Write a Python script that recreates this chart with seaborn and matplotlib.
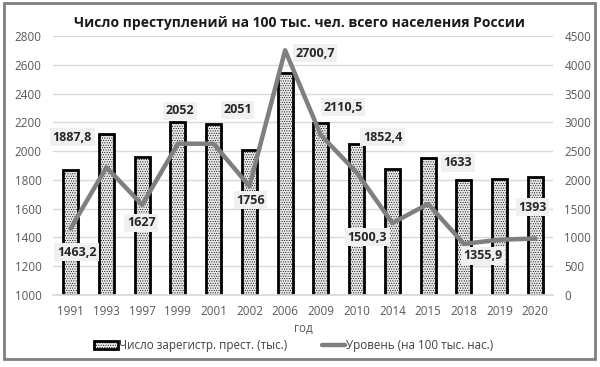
import pandas as pd
import matplotlib.pyplot as plt
import seaborn as sns
from matplotlib.patches import Rectangle, Patch
from matplotlib.lines import Line2D

years = ['1991', '1993', '1997', '1999', '2001', '2002', '2006', '2009',
         '2010', '2014', '2015', '2018', '2019', '2020']
crimes = [2173.0, 2799.6, 2397.3, 3001.7, 2968.3, 2526.3, 3855.4, 2994.8,
          2628.8, 2190.6, 2388.5, 1991.5, 2024.3, 2044.2]
level = [1463.2, 1887.8, 1627, 2052, 2051, 1756, 2700.7, 2110.5,
         1852.4, 1500.3, 1633, 1355.9, 1384, 1393]
level_labels = ['1463,2', '1887,8', '1627', '2052', '2051', '1756', '2700,7', '2110,5',
                '1852,4', '1500,3', '1633', '1355,9', '', '1393']
# label offsets in pixels (dx, dy)
label_off = [(6, -24), (-34, 30), (-1, -18), (2, 33), (24, 34), (1, -14), (30, -3), (22, 28),
             (26, 35), (-25, -14), (30, 41), (19, -12), (0, 0), (-3, 31)]

df = pd.DataFrame({'year': years, 'crimes': crimes, 'level': level})

sns.set_theme(style='white')
plt.rcParams['font.family'] = ['Open Sans', 'DejaVu Sans']
plt.rcParams['hatch.linewidth'] = 0.4
plt.rcParams['hatch.color'] = '#a0a0a0'

fig = plt.figure(figsize=(6, 3.67), dpi=100)
ax = fig.add_axes([0.088, 0.196, 0.834, 0.706])

sns.barplot(data=df, x='year', y='crimes', ax=ax, color='#e8e8e8', width=0.42,
            edgecolor='black', linewidth=2, hatch='.......')
ax.set_ylim(0, 4500)
ax.set_yticks(range(0, 4501, 500))
ax.grid(axis='y', color='#d9d9d9', linewidth=1)
ax.set_axisbelow(True)

ax2 = ax.twinx()
sns.lineplot(data=df, x='year', y='level', ax=ax2, color='#7f7f7f', linewidth=3.2,
             sort=False)
ax2.set_ylim(1000, 2800)
ax2.set_yticks(range(1000, 2801, 200))
# bars read on the right axis, line on the left one
ax.yaxis.tick_right()
ax2.yaxis.tick_left()
ax2.yaxis.set_label_position('left')

for a in (ax, ax2):
    for s in a.spines.values():
        s.set_visible(False)
    a.tick_params(length=0, labelsize=8.4, labelcolor='#595959', pad=8)
    a.set_ylabel('')
ax.spines['bottom'].set_visible(True)
ax.spines['bottom'].set_color('#d9d9d9')
ax.set_xlabel('год', fontsize=8.4, color='#595959', labelpad=3)
ax2.set_xlabel('')
ax.tick_params(axis='x', pad=7)
ax.set_xlim(-0.5, len(years) - 0.5)

for i, (v, t, (dx, dy)) in enumerate(zip(level, level_labels, label_off)):
    if not t:
        continue
    ax2.annotate(t, xy=(i, v), xytext=(dx * 0.72, dy * 0.72), textcoords='offset points',
                 ha='center', va='center', fontsize=9, fontweight='bold', color='#262626',
                 bbox=dict(boxstyle='square,pad=0.2', facecolor='#f0f0f0', edgecolor='none'))

fig.text(0.5, 0.937, 'Число преступлений на 100 тыс. чел. всего населения России',
         ha='center', va='center', fontsize=10, fontweight='bold', color='#1a1a1a')

handles = [Patch(facecolor='#e8e8e8', edgecolor='black', linewidth=2, hatch='.......'),
           Line2D([], [], color='#7f7f7f', linewidth=3.2)]
fig.legend(handles, ['Число зарегистр. прест. (тыс.)', 'Уровень (на 100 тыс. нас.)'],
           loc='center', bbox_to_anchor=(0.49, 0.058), ncol=2, frameon=False,
           fontsize=8.4, labelcolor='#404040', handlelength=2, handletextpad=0.1,
           columnspacing=3.0)

fig.add_artist(Rectangle((0.006, 0.022), 0.986, 0.97, transform=fig.transFigure,
                         fill=False, edgecolor='#7f7f7f', linewidth=2))

fig.savefig('out.png', dpi=100)
